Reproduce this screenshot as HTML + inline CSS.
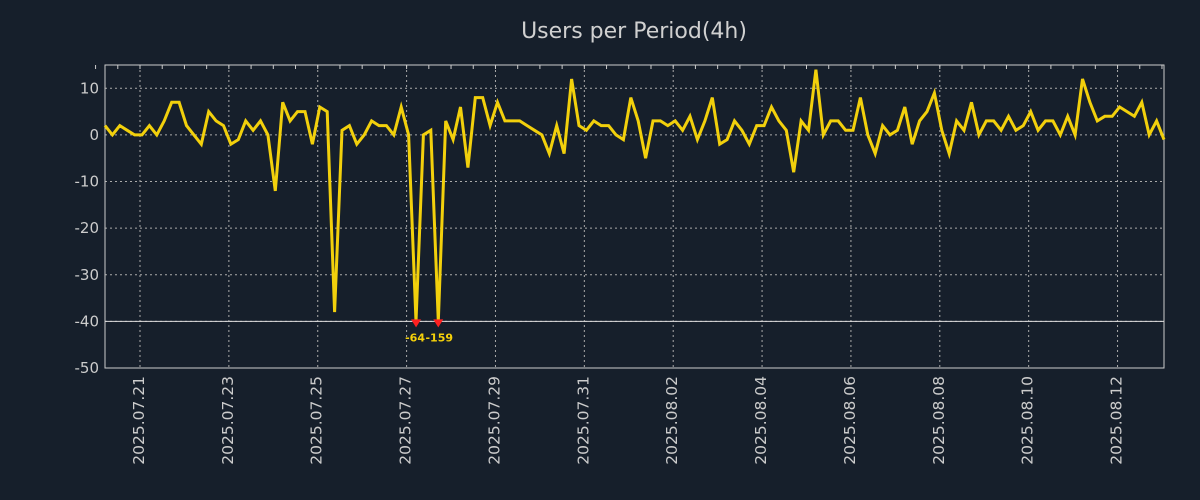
<!DOCTYPE html>
<html><head><meta charset="utf-8"><style>
body{margin:0;background:#161f2b;}
svg{display:block;font-family:"DejaVu Sans","Liberation Sans",sans-serif;}
</style></head><body>
<svg id="chart" width="1200" height="500">
<rect width="1200" height="500" fill="#161f2b"/>
<text x="634" y="38" text-anchor="middle" font-size="22" fill="#d0d0d0">Users per Period(4h)</text>
<g id="grid"></g><g id="axes"></g><g id="series"></g>
</svg>
<script>
const values=[2,0,2,1,0,0,2,0,3,7,7,2,0,-2,5,3,2,-2,-1,3,1,3,0,-12,7,3,5,5,-2,6,5,-38,1,2,-2,0,3,2,2,0,6,0,-64,0,1,-159,3,-1,6,-7,8,8,2,7,3,3,3,2,1,0,-4,2,-4,12,2,1,3,2,2,0,-1,8,3,-5,3,3,2,3,1,4,-1,3,8,-2,-1,3,1,-2,2,2,6,3,1,-8,3,1,14,0,3,3,1,1,8,0,-4,2,0,1,6,-2,3,5,9,1,-4,3,1,7,0,3,3,1,4,1,2,5,1,3,3,0,4,0,12,7,3,4,4,6,5,4,7,0,3,-1];
const dateLabels=["2025.07.21","2025.07.23","2025.07.25","2025.07.27","2025.07.29","2025.07.31","2025.08.02","2025.08.04","2025.08.06","2025.08.08","2025.08.10","2025.08.12"];
const yTicks=[10,0,-10,-20,-30,-40,-50];
const clipMin=-40;
const L=105,R=1164,T=65,B=368,ymin=-50,ymax=15;
const NS="http://www.w3.org/2000/svg";
const step=(R-L)/(values.length-1);
const xIdx=i=>L+i*step;
const day=step*6;
const xDate=k=>140+k*2*day;
const y=v=>B-(v-ymin)/(ymax-ymin)*(B-T);
function mk(tag,attrs,parent){const e=document.createElementNS(NS,tag);for(const k in attrs)e.setAttribute(k,attrs[k]);parent.appendChild(e);return e;}
const grid=document.getElementById('grid'),axes=document.getElementById('axes'),ser=document.getElementById('series');
yTicks.forEach(v=>{
  if(v>ymin){const g=mk('line',{x1:L,x2:R,y1:y(v),y2:y(v),stroke:'#aaa','stroke-dasharray':'2,3','stroke-width':1},grid);
  
  }
  const t=mk('text',{x:L-6,y:y(v)+5,'text-anchor':'end','font-size':15,fill:'#ccc'},axes);
  t.textContent=v;
  
  
});
dateLabels.forEach((d,k)=>{
  const x=xDate(k);
  const g=mk('line',{x1:x,x2:x,y1:T,y2:B,stroke:'#aaa','stroke-dasharray':'2,3','stroke-width':1},grid);
  
  
  const t=mk('text',{x:0,y:0,'text-anchor':'end','font-size':15.5,fill:'#ccc',transform:`translate(${x+4},${B+8}) rotate(-90)`},axes);
  t.textContent=d;
  
  
});
for(let x=xDate(0)-day;x<R;x+=day/2){mk('line',{x1:x,x2:x,y1:T,y2:T+4,stroke:'#ccc'},axes);}
const frame=mk('rect',{x:L,y:T,width:R-L,height:B-T,fill:'none',stroke:'#ccc','stroke-width':1},axes);


const cl=mk('line',{x1:L,x2:R,y1:y(clipMin),y2:y(clipMin),stroke:'#ddd','stroke-width':1},axes);


let d='';values.forEach((v,i)=>{d+=(i?'L':'M')+xIdx(i).toFixed(1)+','+y(Math.max(v,clipMin)).toFixed(1);});
const p=mk('path',{d:d,fill:'none',stroke:'#f2d00c','stroke-width':3,'stroke-linejoin':'miter'},ser);


values.forEach((v,i)=>{
  if(v<clipMin){
    const x=xIdx(i),yy=y(clipMin);
    const m=mk('path',{d:`M${x-5},${yy-2}L${x+5},${yy-2}L${x},${yy+6}Z`,fill:'#ff2020'},ser);
    
    
    const t=mk('text',{x:x+(v<-100?1:-1),y:yy+20,'text-anchor':'middle','font-size':11,'font-weight':'bold',fill:'#f5d10a'},ser);
    t.textContent=v;
    
    
  }
});
</script>
</body></html>
